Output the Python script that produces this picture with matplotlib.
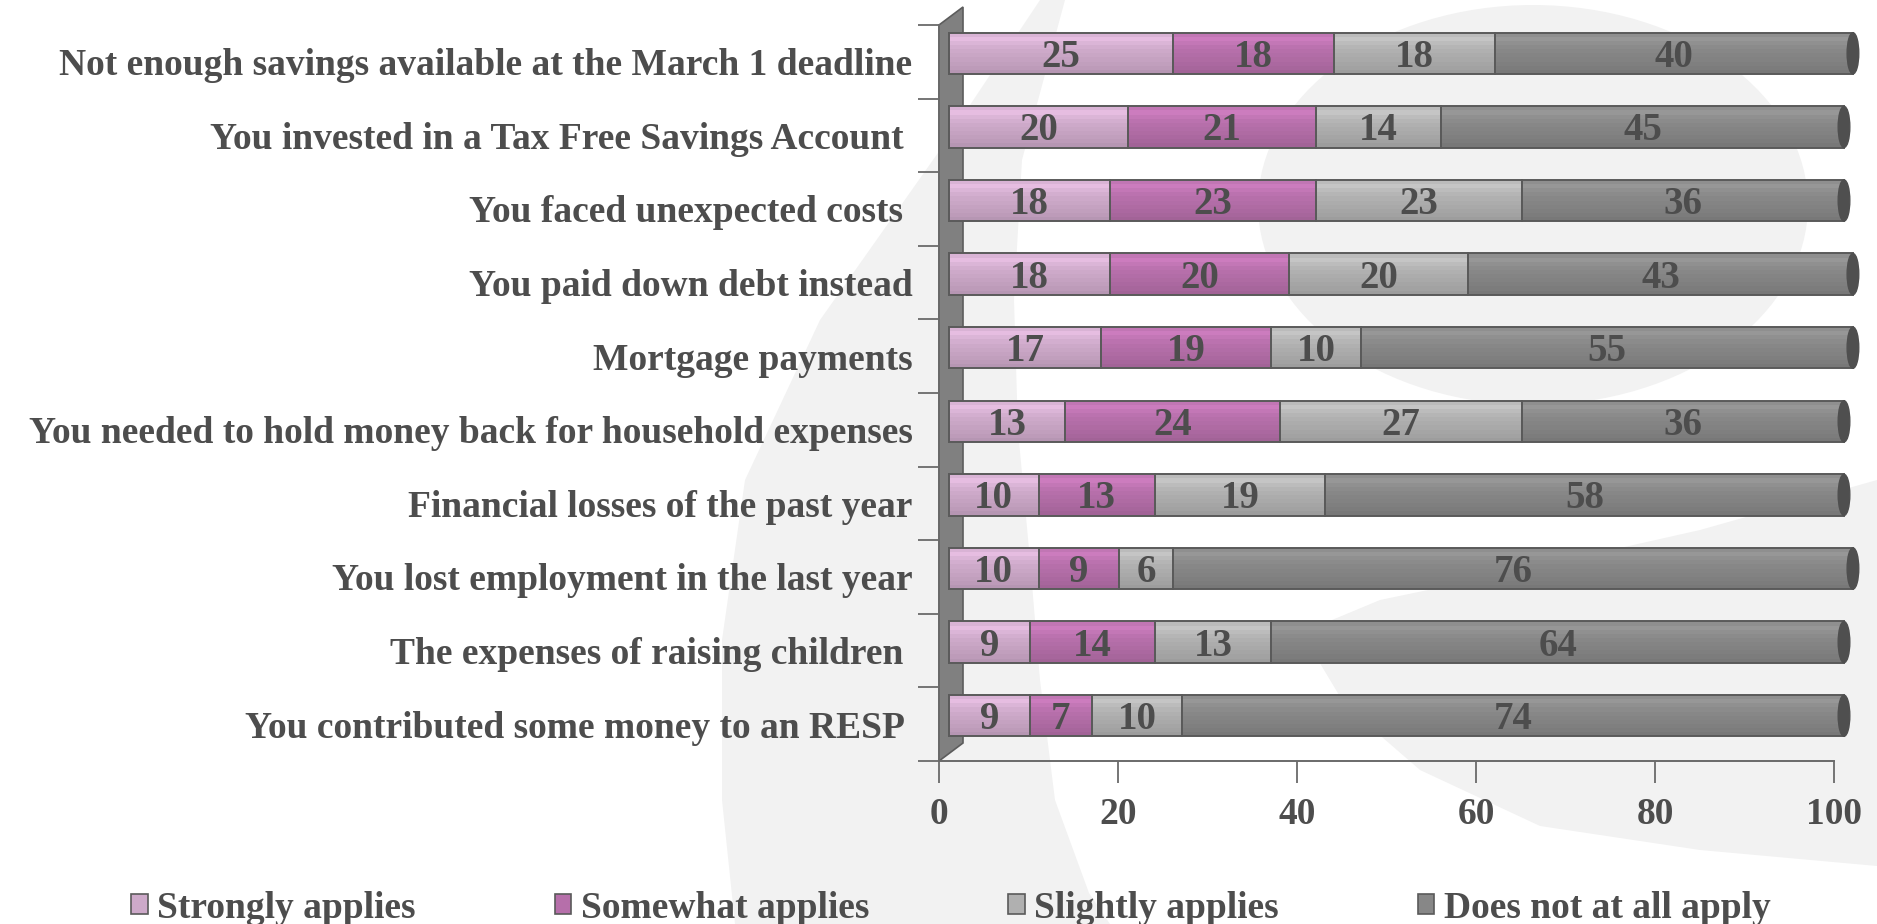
import numpy as np
import matplotlib
matplotlib.use("Agg")
import matplotlib.pyplot as plt
import matplotlib.transforms as mtransforms
from matplotlib.patches import Polygon, Ellipse, Patch

plt.rcParams['font.family'] = ['Liberation Serif', 'DejaVu Serif']
plt.rcParams['font.weight'] = 'bold'

categories = [
    "Not enough savings available at the March 1 deadline",
    "You invested in a Tax Free Savings Account ",
    "You faced unexpected costs ",
    "You paid down debt instead",
    "Mortgage payments",
    "You needed to hold money back for household expenses",
    "Financial losses of the past year",
    "You lost employment in the last year",
    "The expenses of raising children ",
    "You contributed some money to an RESP ",
]
series_names = ["Strongly applies", "Somewhat applies", "Slightly applies", "Does not at all apply"]
strongly = [25, 20, 18, 18, 17, 13, 10, 10, 9, 9]
somewhat = [18, 21, 23, 20, 19, 24, 13, 9, 14, 7]
slightly = [18, 14, 23, 20, 10, 27, 19, 6, 13, 10]
not_at_all = [40, 45, 36, 43, 55, 36, 58, 76, 64, 74]
series_colors = ['#CDA9C9', '#B66FAA', '#B0B0B0', '#878787']

txt = '#4d4d4d'
W, H = 1877, 924
fig = plt.figure(figsize=(W / 100, H / 100), dpi=100)
fig.patch.set_facecolor('white')

# faint logo watermark behind the chart (pixel coords, y down)
px = mtransforms.Affine2D().scale(1.0 / W, -1.0 / H).translate(0, 1) + fig.transFigure
wm = '#f2f2f2'
# left crescent
fig.patches.append(Polygon([(1040, 0), (940, 150), (820, 320), (745, 480), (722, 640),
                            (722, 800), (735, 924), (1110, 924), (1089, 893), (1055, 800),
                            (1040, 680), (1030, 560), (1018, 430), (1014, 300), (1022, 160),
                            (1065, 0)],
                           closed=True, transform=px, facecolor=wm, edgecolor='none', zorder=-5))
# head
fig.patches.append(Ellipse((1533, 205), 550, 400, transform=px, facecolor=wm,
                           edgecolor='none', zorder=-5))
# swoosh
fig.patches.append(Polygon([(1320, 625), (1380, 600), (1500, 575), (1700, 530), (W, 480),
                            (W, 866), (1700, 850), (1540, 826), (1420, 770), (1345, 705),
                            (1312, 650)],
                           closed=True, transform=px, facecolor=wm, edgecolor='none', zorder=-5))

ax = fig.add_axes([939 / W, 1 - 761 / H, (1834 - 939) / W, (761 - 25) / H])
ax.patch.set_alpha(0)
ax.set_xlim(0, 100)
ax.set_ylim(9.5, -0.5)

rows = np.arange(len(categories))
data = [np.array(strongly), np.array(somewhat), np.array(slightly), np.array(not_at_all)]

# bars sit halfway into the 3-d depth
shift = mtransforms.ScaledTranslation(10 / 100, 8.5 / 100, fig.dpi_scale_trans)
tr = ax.transData + shift
tr_lbl = tr + mtransforms.ScaledTranslation(0, -4 / 100, fig.dpi_scale_trans)

# side wall
ddx, ddy = 24 / 895, 18 / 736
ax.add_patch(Polygon([(0, 0), (0, 1), (ddx, 1 + ddy), (ddx, ddy)], closed=True,
                     transform=ax.transAxes, clip_on=False, facecolor='#808080',
                     edgecolor='#5c5c5c', lw=1.2, zorder=1))

h = 0.56
profile = [1.06, 1.12, 1.07, 1.03, 1.0, 0.98, 0.96, 0.94, 0.92, 0.89]
n = len(profile)


def shade(c, f):
    rgb = np.array(matplotlib.colors.to_rgb(c)) * f
    return tuple(np.clip(rgb, 0, 1))


left = np.zeros(len(categories))
for vals, col in zip(data, series_colors):
    for s, f in enumerate(profile):
        top = rows - h / 2 + s * h / n
        sh = h / n * (1.6 if s < n - 1 else 1.0)
        ax.barh(top, vals, left=left, height=sh, align='edge', color=shade(col, f), lw=0,
                transform=tr, clip_on=False, zorder=2)
    ax.barh(rows, vals, left=left, height=h, fill=False, edgecolor='#5a5a5a', lw=1.4,
            transform=tr, clip_on=False, zorder=3)
    for r, v, l in zip(rows, vals, left):
        ax.text(l + v / 2, r, str(v), transform=tr_lbl, ha='center', va='center',
                fontsize=28, color=txt, fontweight='bold', zorder=4)
    left = left + vals

for r, tot in zip(rows, left):
    ax.add_patch(Ellipse((tot, r), 1.3, h, transform=tr, facecolor='#4f4f4f',
                         edgecolor='#4f4f4f', clip_on=False, zorder=3))

for sp in ['top', 'right']:
    ax.spines[sp].set_visible(False)
for sp in ['left', 'bottom']:
    ax.spines[sp].set_color('#6a6a6a')
    ax.spines[sp].set_linewidth(1.4)

ax.set_xticks(np.arange(0, 101, 20))
ax.tick_params(axis='x', direction='out', length=16, width=1.3, color='#6a6a6a',
               labelsize=27, labelcolor=txt, pad=10)
ax.set_yticks(rows)
ax.set_yticklabels(categories)
ax.tick_params(axis='y', which='major', length=0, labelsize=27, labelcolor=txt, pad=19)
ax.set_yticks(np.arange(-0.5, 10, 1), minor=True)
ax.tick_params(axis='y', which='minor', direction='out', length=15, width=1.3, color='#6a6a6a')

handles = [Patch(facecolor=c, edgecolor='#5a5a5a', lw=1.2) for c in series_colors]
fig.legend(handles, series_names, ncol=4, loc='center left',
           bbox_to_anchor=(131 / W, 1 - 908 / H), frameon=False, fontsize=27,
           handlelength=0.45, handleheight=0.45, handletextpad=0.25, columnspacing=3.7,
           borderpad=0, borderaxespad=0, labelcolor=txt)

fig.savefig('out.png', dpi=100)
